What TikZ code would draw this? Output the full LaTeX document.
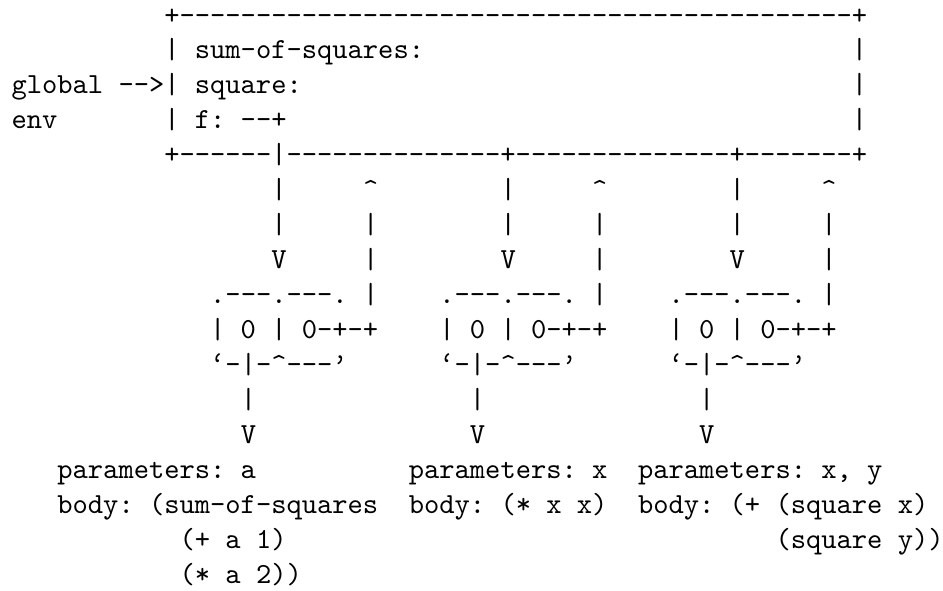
\documentclass[tikz,border=0pt]{standalone}
\usepackage{fontspec}
\setmonofont{lmmono10-regular.otf}
\begin{document}
% Character grid: one unit = one pixel (x right, y down).
% Column c starts at 11.56 + 15.28 c, row r has its baseline at 24 + 34.95 r.
\newcommand\asc[4]{\node[cell] (#1) at ({11.56+15.28*#2},{24+34.95*#3}) {#4};}
\newcommand\crt{\textasciicircum}
\begin{tikzpicture}[x=0.5pt,y=-0.5pt,
  cell/.style={anchor=base west,inner sep=0pt,outer sep=0pt,
    font=\fontsize{14.55pt}{17pt}\ttfamily,text=black}]
\useasboundingbox (0,0) rectangle (943,590);
% global environment frame
\asc{top}{10}{0}{+--------------------------------------------+}
\asc{sos}{10}{1}{| sum-of-squares:}
\asc{sosR}{55}{1}{|}
\asc{glob}{0}{2}{global -->| square:}
\asc{globR}{55}{2}{|}
\asc{env}{0}{3}{env}
\asc{fbind}{10}{3}{| f: --+}
\asc{fR}{55}{3}{|}
\asc{bot}{10}{4}{+------|--------------+--------------+-------+}
% links between the frame and the three procedure objects
\asc{aA}{17}{5}{|}\asc{aB}{23}{5}{\crt}
\asc{bA}{32}{5}{|}\asc{bB}{38}{5}{\crt}
\asc{cA}{47}{5}{|}\asc{cB}{53}{5}{\crt}
\asc{aC}{17}{6}{|}\asc{aD}{23}{6}{|}
\asc{bC}{32}{6}{|}\asc{bD}{38}{6}{|}
\asc{cC}{47}{6}{|}\asc{cD}{53}{6}{|}
\asc{aE}{17}{7}{V}\asc{aF}{23}{7}{|}
\asc{bE}{32}{7}{V}\asc{bF}{38}{7}{|}
\asc{cE}{47}{7}{V}\asc{cF}{53}{7}{|}
% procedure objects (double bubbles)
\asc{aTop}{13}{8}{.---.---.}\asc{aG}{23}{8}{|}
\asc{bTop}{28}{8}{.---.---.}\asc{bG}{38}{8}{|}
\asc{cTop}{43}{8}{.---.---.}\asc{cG}{53}{8}{|}
\asc{aMid}{13}{9}{| 0 | 0-+-+}
\asc{bMid}{28}{9}{| 0 | 0-+-+}
\asc{cMid}{43}{9}{| 0 | 0-+-+}
\asc{aBot}{13}{10}{‘-|-\crt---’}
\asc{bBot}{28}{10}{‘-|-\crt---’}
\asc{cBot}{43}{10}{‘-|-\crt---’}
\asc{aH}{15}{11}{|}\asc{bH}{30}{11}{|}\asc{cH}{45}{11}{|}
\asc{aI}{15}{12}{V}\asc{bI}{30}{12}{V}\asc{cI}{45}{12}{V}
% parameters and bodies
\asc{aPar}{3}{13}{parameters: a}
\asc{bPar}{26}{13}{parameters: x}
\asc{cPar}{41}{13}{parameters: x, y}
\asc{aBody}{3}{14}{body: (sum-of-squares}
\asc{bBody}{26}{14}{body: (* x x)}
\asc{cBody}{41}{14}{body: (+ (square x)}
\asc{aBody2}{11}{15}{(+ a 1)}
\asc{cBody2}{50}{15}{(square y))}
\asc{aBody3}{11}{16}{(* a 2))}
\end{tikzpicture}
\end{document}
